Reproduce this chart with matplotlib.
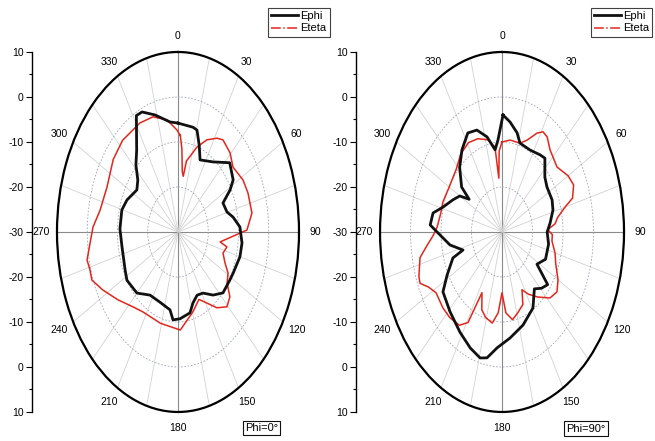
import numpy as np
import matplotlib.pyplot as plt
from matplotlib.lines import Line2D

plt.rcParams['font.family'] = ['Liberation Sans Narrow', 'Liberation Sans', 'DejaVu Sans']

# ---- data (angle in deg, level in dB) ----
# Phi = 0 deg
p0_ephi_ang = [0, 12, 15.5, 20, 24.5, 36.6, 48, 57.6, 61.5, 66.6, 74.7, 79.7, 86.9, 96.6, 105,
               116.6, 121.8, 132.3, 140.4, 148.6, 155.8, 162.5, 167.6, 178, 184.8, 188.7, 201,
               213.4, 225, 237.6, 244.3, 259.8, 272, 284.8, 292.9, 304.5, 311, 317, 323, 332,
               336, 343.7, 353.8]
p0_ephi_db = [-5.8, -6.2, -6.5, -9.5, -12.4, -10.6, -7.0, -8.4, -10.4, -13.8, -13.2, -11.5, -9.5,
              -8.7, -8.8, -9.6, -9.8, -9.9, -11.8, -14.1, -14.6, -13.5, -11.6, -10.7, -10.4, -12.5,
              -13.3, -13.2, -10.8, -10.0, -10.6, -11.2, -10.8, -10.8, -11.7, -13.5, -12.4, -9.6,
              -7.3, -0.7, -0.8, -2.9, -5.4]

p0_eteta_ang = [2, 4, 6, 8, 10, 18.4, 25, 31.7, 36, 44.4, 51.6, 61.7, 69.5, 80.2, 88.9, 99, 101.6,
                107.5, 113.9, 118.9, 125, 130, 135.8, 142.6, 155.2, 164.4, 178, 196, 213, 221.7,
                232.7, 242.6, 249.4, 254, 258.3, 265, 272.3, 280.7, 293, 307, 318, 332.6, 342,
                351.7, 359]
p0_eteta_db = [-8.5, -11.5, -16.5, -17.5, -14.0, -10.1, -7.4, -5.5, -4.7, -5.4, -6.8, -5.6, -5.3,
               -5.2, -7.2, -15.9, -13.5, -14.4, -13.0, -11.1, -10.2, -7.6, -6.8, -8.8, -13.5,
               -11.6, -8.2, -8.9, -8.8, -7.7, -5.1, -2.0, 0.4, 0.3, 0.7, -0.8, -1.9, -3.8, -4.5,
               -3.2, -2.6, -2.7, -3.1, -4.8, -7.3]

# Phi = 90 deg
p90_ephi_ang = [0.7, 6.1, 12.6, 16.6, 26.8, 36, 40.6, 49, 55.9, 66.5, 73.7, 82.7, 90, 100, 113,
                122, 128, 134, 140, 149, 161.6, 173.6, 183.6, 190, 194.4, 202, 211.7, 223.8,
                235.5, 242, 250.3, 252.6, 260.4, 270, 273.8, 280.6, 286, 294, 300, 304, 307, 316,
                324.3, 333, 340, 346.9, 352.9, 356.3]
p90_ephi_db = [-4.0, -5.4, -7.4, -9.4, -9.6, -8.8, -8.4, -11.4, -12.2, -12.1, -12.6, -14.1, -15.2,
               -14.5, -14.5, -16.5, -11.0, -12.0, -13.5, -10.3, -8.2, -6.3, -4.2, -1.6, -1.1, -2.2,
               -3.8, -5.4, -6.5, -9.6, -12.9, -16.6, -12.7, -8.7, -6.4, -7.0, -9.9, -12.4, -14.0,
               -17.0, -13.4, -10.0, -7.5, -5.3, -5.9, -8.3, -11.6, -9.5]

p90_eteta_ang = [0, 7.4, 16.6, 21.9, 27.6, 31.1, 35, 40.8, 51.3, 60, 66, 72, 75, 80, 84, 88, 92,
                 97, 105, 112, 120, 126.5, 133, 141, 148, 153, 157, 164, 170, 176, 180, 184, 189,
                 196, 201, 206, 209, 214, 222, 229, 238, 243, 247, 250, 258, 263, 268, 273, 282,
                 289, 300, 313, 322, 331, 339, 347.3, 353, 355, 357]
p90_eteta_db = [-10.0, -9.4, -9.4, -8.0, -5.2, -4.0, -4.2, -5.9, -6.9, -5.0, -4.3, -5.7, -8.6,
                -11.5, -12.5, -15.0, -13.5, -13.5, -12.0, -11.0, -8.8, -7.6, -8.5, -11.4, -13.7,
                -15.6, -12.5, -11.3, -10.2, -12.0, -16.5, -12.0, -9.5, -10.3, -11.5, -15.0, -7.0,
                -5.0, -4.4, -4.3, -4.5, -3.0, -0.8, -1.0, -2.5, -5.2, -7.4, -8.7, -9.5, -9.5,
                -10.0, -9.5, -8.0, -7.3, -7.8, -9.0, -11.0, -18.0, -12.0]

r_min, r_max = -30, 10
ring_ticks = [-20, -10, 0, 10]
axis_labels = [10, 0, -10, -20, -30, -20, -10, 0, 10]

black = '#111111'
red = '#e3261c'


def closed(ang, db):
    t = np.deg2rad(np.append(ang, ang[0]))
    return t, np.append(db, db[0])


def panel(fig, rect, axis_x, ephi, eteta, tag, leg_xy, tag_xy):
    ax = fig.add_axes(rect, projection='polar')
    ax.set_aspect('auto')
    ax.set_theta_zero_location('N')
    ax.set_theta_direction(-1)
    ax.set_ylim(r_min, r_max)

    angs = np.arange(0, 360, 15)
    ax.set_xticks(np.deg2rad(angs))
    ax.set_xticklabels([str(a) if a % 30 == 0 else '' for a in angs])
    ax.set_yticks(ring_ticks)
    ax.set_yticklabels([])
    ax.xaxis.grid(True, color='#d2d2d2', lw=0.6, ls='-')
    ax.yaxis.grid(True, color='#9ea3bd', lw=0.6, ls=(0, (2, 2)))
    for i, gl in enumerate(ax.xaxis.get_gridlines()):
        if angs[i] % 90 == 0:
            gl.set_color('#8a8a8a')
            gl.set_linewidth(0.8)
    ax.spines['polar'].set_linewidth(1.6)
    ax.tick_params(axis='x', labelsize=7.5, pad=4.5, direction='in', length=4, width=0.8)

    t, r = closed(*eteta)
    ax.plot(t, r, color=red, lw=1.1)
    t, r = closed(*ephi)
    ax.plot(t, r, color=black, lw=2.0)

    # separate radial scale on the left
    ay = fig.add_axes([axis_x, rect[1], 0.0001, rect[3]])
    ay.set_ylim(-(r_max - r_min), r_max - r_min)
    n = len(axis_labels) // 2
    pos = [(v - r_min) if i < n else -(v - r_min) for i, v in enumerate(axis_labels)]
    ay.set_yticks(pos)
    ay.set_yticklabels([str(v) for v in axis_labels])
    ay.set_yticks(np.arange(-(r_max - r_min) + 5, r_max - r_min, 10), minor=True)
    ay.set_xticks([])
    for s in ['top', 'right', 'bottom']:
        ay.spines[s].set_visible(False)
    ay.spines['left'].set_linewidth(1.0)
    ay.tick_params(axis='y', which='major', labelsize=7.5, length=4, width=0.8, pad=2)
    ay.tick_params(axis='y', which='minor', length=2.5, width=0.8)
    ay.patch.set_visible(False)

    handles = [Line2D([], [], color=black, lw=2.0, label='Ephi'),
               Line2D([], [], color=red, lw=1.1, ls='-.', label='Eteta')]
    leg = ax.legend(handles=handles, loc='upper left', bbox_to_anchor=leg_xy,
                    bbox_transform=fig.transFigure, fontsize=8, frameon=True,
                    fancybox=False, edgecolor=black, borderpad=0.3, handlelength=2.4,
                    handletextpad=0.2, labelspacing=0.2, borderaxespad=0)
    leg.get_frame().set_linewidth(0.8)

    fig.text(tag_xy[0], tag_xy[1], tag, fontsize=8, ha='center', va='center',
             bbox=dict(boxstyle='square,pad=0.2', fc='white', ec=black, lw=0.8))


fig = plt.figure(figsize=(6.55, 4.41), dpi=100)

panel(fig, [0.0870, 0.0658, 0.3695, 0.8163], 0.0489,
      (p0_ephi_ang, p0_ephi_db), (p0_eteta_ang, p0_eteta_db),
      'Phi=0°', (0.409, 0.982), (0.399, 0.030))
panel(fig, [0.5802, 0.0658, 0.3725, 0.8163], 0.5435,
      (p90_ephi_ang, p90_ephi_db), (p90_eteta_ang, p90_eteta_db),
      'Phi=90°', (0.902, 0.982), (0.895, 0.028))

fig.savefig('out.png', dpi=100)
